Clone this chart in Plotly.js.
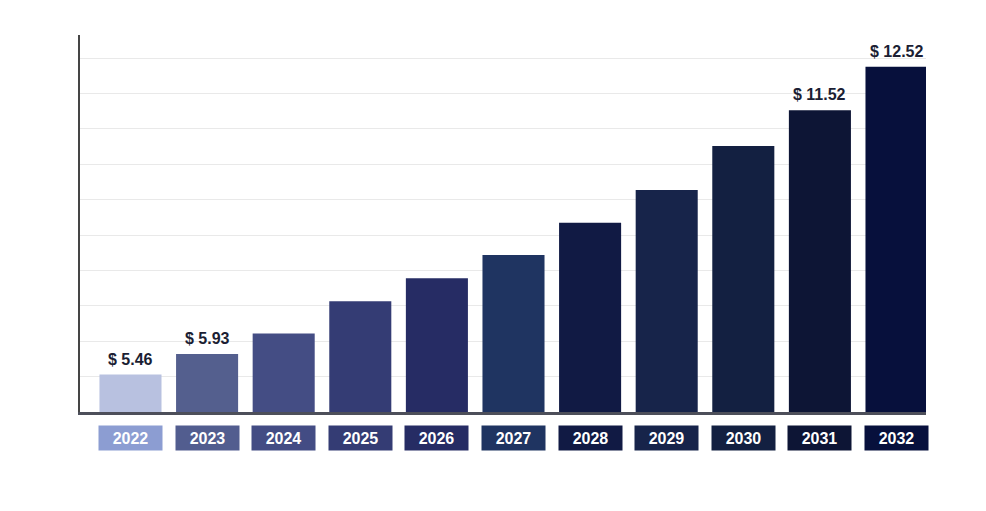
<!DOCTYPE html>
<html>
<head>
<meta charset="utf-8">
<script src="https://cdn.plot.ly/plotly-3.0.1.min.js"></script>
<style>
  html, body { margin: 0; padding: 0; background: #ffffff; }
  #plot { width: 986px; height: 511px; }
</style>
</head>
<body>
<div id="plot"></div>
<script>
// dane (wartosci bez podpisu sa szacowane z wysokosci slupkow)
const years = ['2022', '2023', '2024', '2025', '2026', '2027', '2028', '2029', '2030', '2031', '2032'];
const values = [5.46, 5.93, 6.40, 7.14, 7.67, 8.20, 8.94, 9.69, 10.70, 11.52, 12.52];
// ktore slupki maja podpis z wartoscia
const labelled = [true, true, false, false, false, false, false, false, false, true, true];

// kolory slupkow i ramek z latami
const barColors = ['#b8c1e0', '#545f8e', '#444d84', '#343c74', '#262c64', '#1f3461',
                   '#111a44', '#17244a', '#132041', '#0d1535', '#07103c'];
const boxColors = ['#8c9dd2', '#525d8f', '#434c84', '#343c74', '#262c64', '#1f3461',
                   '#111a44', '#17244a', '#132041', '#0d1535', '#07103c'];

// brak waskiej czcionki, wiec Liberation Sans Bold w mniejszym rozmiarze
const fontFamily = '"Liberation Sans", Arial, sans-serif';

var trace = {
    type: 'bar',
    x: years,
    y: values,
    width: 0.81,
    marker: {color: barColors},
    hoverinfo: 'x+y'
};

var annotations = [];

// podpisy wartosci nad wybranymi slupkami (x jako indeks kategorii)
for (let i = 0; i < years.length; i++) {
    if (!labelled[i]) continue;
    annotations.push({
        x: i,
        y: values[i],
        xref: 'x',
        yref: 'y',
        text: '$ ' + values[i].toFixed(2),
        showarrow: false,
        yanchor: 'bottom',
        yshift: 5,
        font: {family: fontFamily, size: 16, weight: 700, color: '#1b1e33'}
    });
}

// lata w kolorowych ramkach pod osia
for (let i = 0; i < years.length; i++) {
    annotations.push({
        x: i,
        y: -0.069,
        xref: 'x',
        yref: 'paper',
        text: years[i],
        showarrow: false,
        yanchor: 'middle',
        width: 63,
        height: 24,
        borderpad: 0,
        bgcolor: boxColors[i],
        font: {family: fontFamily, size: 16, weight: 700, color: '#ffffff'}
    });
}

var layout = {
    width: 986,
    height: 511,
    margin: {l: 80, r: 60, t: 35, b: 99},
    paper_bgcolor: '#ffffff',
    plot_bgcolor: '#ffffff',
    showlegend: false,
    xaxis: {
        type: 'category',
        range: [-0.659, 10.385],
        showticklabels: false,
        ticks: '',
        showgrid: false,
        zeroline: false,
        showline: true,
        linecolor: '#4d4f5a',
        linewidth: 3,
        fixedrange: true
    },
    yaxis: {
        range: [4.60, 13.248],
        tick0: 4.60,
        dtick: 0.812,
        showticklabels: false,
        ticks: '',
        showgrid: true,
        gridcolor: '#e9e9e9',
        gridwidth: 1,
        zeroline: false,
        showline: true,
        linecolor: '#454545',
        linewidth: 2.5,
        fixedrange: true
    },
    annotations: annotations
};

Plotly.newPlot('plot', [trace], layout, {displayModeBar: false, staticPlot: true});
</script>
</body>
</html>
